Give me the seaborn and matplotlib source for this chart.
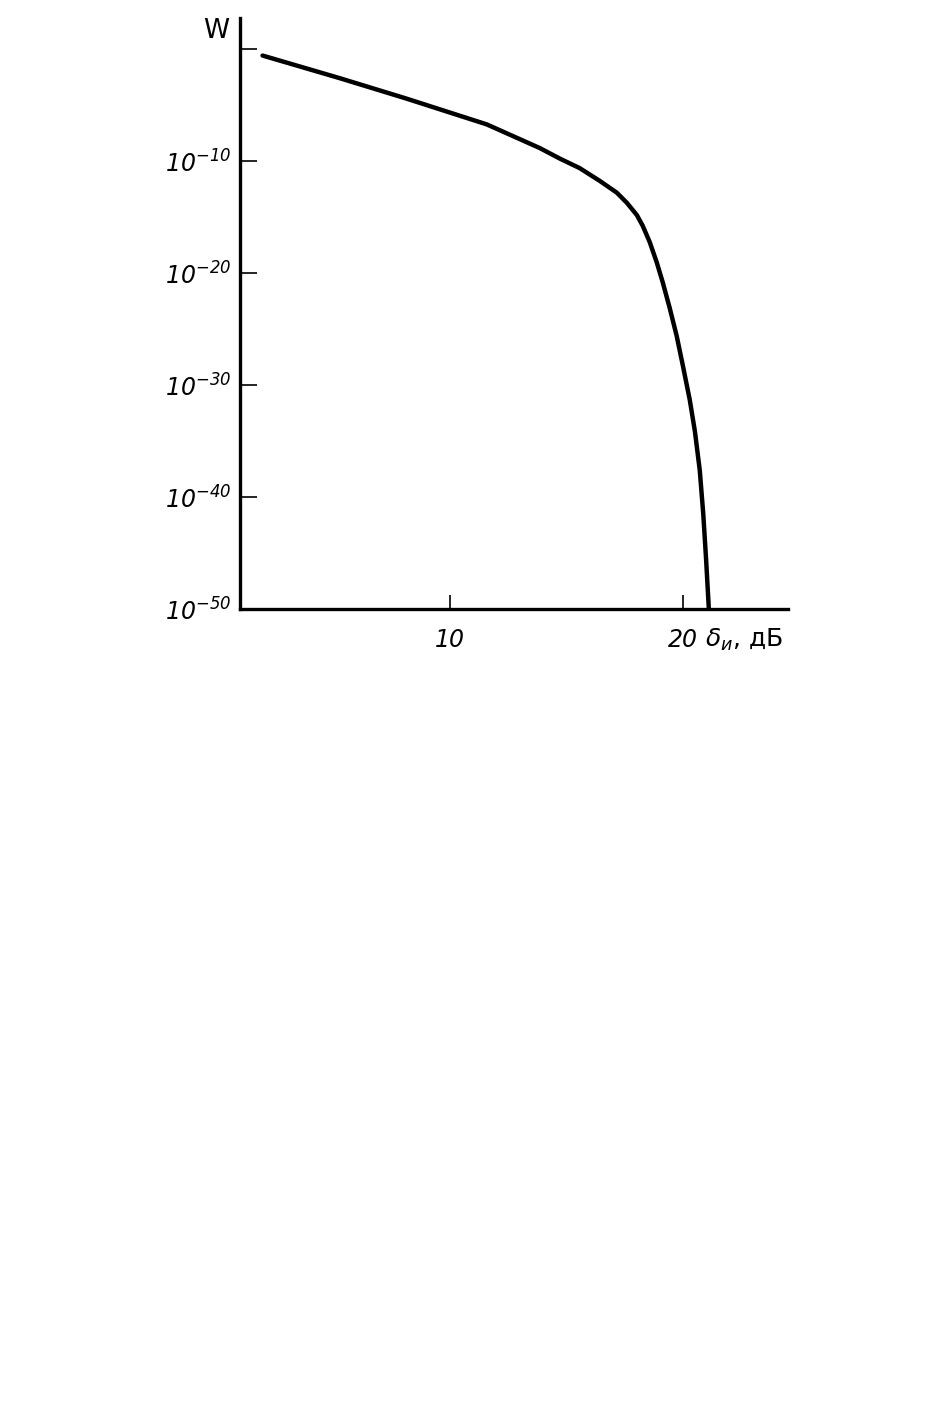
import matplotlib
matplotlib.use("Agg")
import matplotlib.pyplot as plt
import numpy as np
import pandas as pd
import seaborn as sns

# curve: delta (dB) vs log10 W
delta_db = [1.97, 5.28, 8.15, 11.59, 13.86, 14.72, 15.58, 16.44, 17.17, 17.6, 18.03, 18.28,
            18.58, 18.88, 19.14, 19.44, 19.74, 20.0, 20.3, 20.52, 20.73, 20.88, 21.0, 21.12]
log_w = [-0.55, -2.57, -4.4, -6.7, -8.81, -9.75, -10.61, -11.75, -12.8, -13.7, -14.8, -15.75,
         -17.2, -19.0, -20.8, -23.1, -25.6, -28.2, -31.3, -34.1, -37.6, -41.5, -45.5, -50.0]

y_ticks = [0, -10, -20, -30, -40, -50]
y_tick_labels = ["", "$10^{-10}$", "$10^{-20}$", "$10^{-30}$", "$10^{-40}$", "$10^{-50}$"]
x_ticks = [10, 20]
x_tick_labels = ["10", "20"]

sns.set_style("ticks")
plt.rcParams["font.family"] = ["DejaVu Sans"]
# italic digits in the exponent labels, as in the scanned figure
plt.rcParams["mathtext.fontset"] = "custom"
plt.rcParams["mathtext.rm"] = "DejaVu Sans:italic"
plt.rcParams["mathtext.it"] = "DejaVu Sans:italic"

df = pd.DataFrame({"delta": delta_db, "W": np.power(10.0, log_w)})

fig = plt.figure(figsize=(9.41, 14.22), dpi=100)
ax = fig.add_axes([0.255, 0.5717, 0.582, 0.4156])

sns.lineplot(data=df, x="delta", y="W", ax=ax, color="black", linewidth=3.2)
ax.set_yscale("log")
ax.set_ylim(1e-50, 10 ** 2.8)
ax.set_xlim(1.0, 24.5)

ax.set_yticks([10.0 ** t for t in y_ticks])
ax.set_yticklabels(y_tick_labels, fontsize=17, color="black")
ax.minorticks_off()
ax.set_xticks(x_ticks)
ax.set_xticklabels(x_tick_labels, fontsize=17, fontstyle="italic", color="black")

ax.tick_params(axis="y", direction="in", length=12, width=1.2, pad=6, color="black")
ax.tick_params(axis="x", direction="in", length=10, width=1.2, pad=14, color="black")

for side in ["top", "right"]:
    ax.spines[side].set_visible(False)
for side in ["left", "bottom"]:
    ax.spines[side].set_linewidth(2.4)
    ax.spines[side].set_color("black")

ax.set_xlabel("")
ax.set_ylabel("")
ax.text(-0.02, 1.0, "W", transform=ax.transAxes, ha="right", va="top", fontsize=19, color="black")
ax.text(0.849, -0.052, r"$\delta_{и}$, дБ", transform=ax.transAxes, ha="left", va="center",
        fontsize=18, color="black")

fig.savefig("out.png", dpi=100, facecolor="white")
